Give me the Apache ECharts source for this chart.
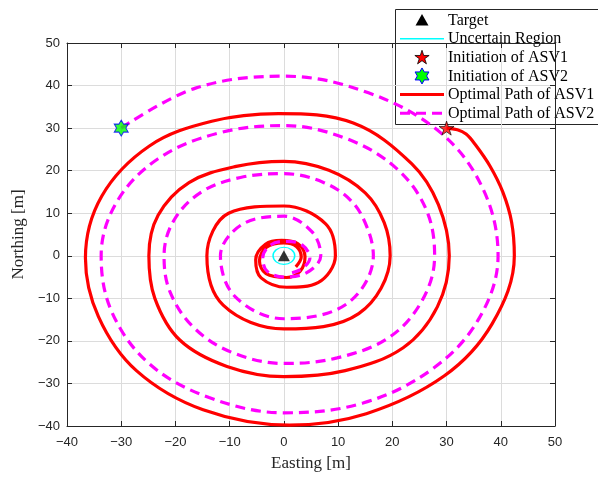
<!DOCTYPE html>
<html>
<head>
<meta charset="utf-8">
<script src="https://cdn.jsdelivr.net/npm/echarts@6/dist/echarts.min.js"></script>
<style>
  html, body { margin: 0; padding: 0; background: #ffffff; overflow: hidden; }
  #chart { width: 598px; height: 477px; }
</style>
</head>
<body>
<div id="chart"></div>
<script>
// Axis range shared by Easting and Northing
const axisMin = -40;
const axisMax = 50;
const tickStep = 10;

// Target position and radius of the uncertain region [m]
const target = [0, 0];
const uncertainRadius = 2;

// Start points of the two vehicles [m]
const asv1Start = [30, 30];
const asv2Start = [-30, 30];

// Optimal path of ASV1 (Easting, Northing) [m]
const asv1Path = [
  [30, 30], [32, 29.6], [33.6, 28.6], [35.2, 26.3], [38, 21.1], [40.4, 14.9], [42, 7.9], [42.5, 0],
  [38.4, -16], [29.6, -28.2], [15.2, -37.1], [1, -39.8], [-14.9, -36.2], [-27.2, -27],
  [-34.2, -14.3], [-36.6, -0.5], [-33.6, 14], [-24.8, 25.8], [-13.3, 31.6], [-1, 33.4],
  [12.8, 31.2], [23.6, 21.6], [28.5, 12], [30.5, 0], [28.3, -12], [22, -21.6], [11.3, -27],
  [0, -28.4], [-10.5, -26], [-19.2, -19.8], [-23.8, -10], [-24.9, 0], [-23.2, 9.5],
  [-17.5, 17.2], [-8.8, 21], [0, 22.2], [8.3, 20.1], [15, 14.8], [18.5, 7.8], [19.6, 0],
  [13.8, -13.6], [0, -17.2], [-11.2, -11.6], [-14.2, 0], [-10.2, 10], [0, 11.7], [7.7, 7.5],
  [9.5, 0], [6.3, -6.3], [0.5, -7.4], [-4.2, -5.2], [-5.2, -1], [-3.4, 2.7], [-0.4, 3.6],
  [2.6, 2.8], [3.9, -0.2], [3, -3.6], [0.5, -5.1], [-3.3, -4.2], [-4.5, -1.2], [-3.2, 2],
  [0, 3], [2.3, 2.2], [3.2, -0.3], [2.2, -2.6]
];

// Optimal path of ASV2 (Easting, Northing) [m]
const asv2Path = [
  [-30, 30], [-16.3, 39.4], [0, 42.2], [15.6, 38.3], [29.1, 28.7], [36.8, 15.5], [39.5, 0],
  [36, -14.7], [27.5, -26.5], [14.6, -34.6], [0, -36.9], [-13.8, -33.3], [-24.8, -25.4],
  [-31.7, -13.3], [-33.7, 0], [-30.8, 12.7], [-23.2, 22.8], [-12.2, 28.8], [0, 30.6],
  [11.6, 27.5], [20.7, 20.6], [26.2, 11], [27.8, 0], [25.5, -10.5], [19.4, -19.2], [9.8, -24],
  [0, -25.3], [-9.6, -22.7], [-16.6, -16.9], [-21, -8.5], [-22.1, 0], [-20.3, 8.3],
  [-15.2, 15], [-8, 18.4], [0, 19.3], [7.2, 17.3], [12.5, 12.8], [15.4, 6.5], [16.5, 0],
  [11.6, -11.3], [0, -14.8], [-9, -9.6], [-11.7, 0], [-7.8, 7.3], [0, 9.3], [5.2, 5.6],
  [6.8, 0], [4.3, -3.9], [0, -5], [-3.1, -3.6], [-3.9, -0.5], [-2.5, 2.5], [0.5, 3.4],
  [3.4, 2.5], [4.8, -0.5], [3.4, -3], [1.5, -4]
];

// Legend entries, top to bottom
const legendLabels = [
  'Target',
  'Uncertain Region',
  'Initiation of ASV1',
  'Initiation of ASV2',
  'Optimal Path of ASV1',
  'Optimal Path of ASV2'
];

const AXIS_COLOR = '#262626';
const GRID_COLOR = '#dcdcdc';
const RED = '#ff0000';
const MAGENTA = '#ff00ff';
const CYAN = '#00ffff';
const PATH_SMOOTH = 0.36;

// Marker outlines on a unit box (five-point star and hexagram)
const STAR5_PTS = [[0, -1], [0.225, -0.309], [0.951, -0.309], [0.363, 0.118], [0.588, 0.809],
  [0, 0.382], [-0.588, 0.809], [-0.363, 0.118], [-0.951, -0.309], [-0.225, -0.309]];
const STAR6_PTS = [[0, -1], [0.289, -0.5], [0.866, -0.5], [0.577, 0], [0.866, 0.5], [0.289, 0.5],
  [0, 1], [-0.289, 0.5], [-0.866, 0.5], [-0.577, 0], [-0.866, -0.5], [-0.289, -0.5]];

const toSymbol = pts => 'path://M' + pts.map(p => (p[0] * 100).toFixed(1) + ',' + (p[1] * 100).toFixed(1)).join(' L') + ' Z';
const STAR5 = toSymbol(STAR5_PTS);
const STAR6 = toSymbol(STAR6_PTS);

const fmt = v => String(v).replace('-', '\u2212');

function mainAxis(name, gap, labelMargin) {
  return {
    type: 'value', min: axisMin, max: axisMax, interval: tickStep,
    name: name, nameLocation: 'middle', nameGap: gap,
    nameTextStyle: { fontFamily: 'Liberation Serif', fontSize: 17, color: AXIS_COLOR },
    axisLine: { show: true, onZero: false, lineStyle: { color: AXIS_COLOR, width: 1 } },
    axisTick: { show: true, inside: true, length: 5, lineStyle: { color: AXIS_COLOR } },
    axisLabel: { color: AXIS_COLOR, fontFamily: 'Liberation Sans', fontSize: 13, margin: labelMargin, formatter: fmt },
    splitLine: { show: true, lineStyle: { color: GRID_COLOR, width: 1 } }
  };
}
function mirrorAxis(pos) {
  return {
    type: 'value', min: axisMin, max: axisMax, interval: tickStep, position: pos,
    axisLine: { show: true, onZero: false, lineStyle: { color: AXIS_COLOR, width: 1 } },
    axisTick: { show: true, inside: true, length: 5, lineStyle: { color: AXIS_COLOR } },
    axisLabel: { show: false },
    splitLine: { show: false }
  };
}

// Legend box drawn as graphic elements
const LX = 395.5, LY = 9.5, ROW0 = 20, ROWH = 18.65, ICON_X0 = 400, ICON_X1 = 444, TEXT_X = 448;
const cxIcon = (ICON_X0 + ICON_X1) / 2;
const placeIcon = (pts, cx, cy, hw, hh) => pts.map(p => [cx + p[0] * hw, cy + p[1] * hh]);

const legendEls = [{
  type: 'rect', shape: { x: LX, y: LY, width: 220, height: 115 },
  style: { fill: '#ffffff', stroke: AXIS_COLOR, lineWidth: 1 }
}];
legendLabels.forEach((t, i) => {
  legendEls.push({
    type: 'text', x: TEXT_X, y: ROW0 + 0.5 + i * ROWH,
    style: { text: t, fill: '#000000', font: '16px "Liberation Serif"', verticalAlign: 'middle', align: 'left' }
  });
});
legendEls.push(
  { type: 'polygon', shape: { points: [[cxIcon, ROW0 - 6], [cxIcon + 6.5, ROW0 + 5.5], [cxIcon - 6.5, ROW0 + 5.5]] },
    style: { fill: '#000000' } },
  { type: 'line', shape: { x1: ICON_X0, y1: ROW0 + ROWH, x2: ICON_X1, y2: ROW0 + ROWH },
    style: { stroke: CYAN, lineWidth: 1.5 } },
  { type: 'polygon', shape: { points: placeIcon(STAR5_PTS, cxIcon, ROW0 + 2 * ROWH + 0.5, 7.5, 7.5) },
    style: { fill: RED, stroke: '#000000', lineWidth: 0.8 } },
  { type: 'polygon', shape: { points: placeIcon(STAR6_PTS, cxIcon, ROW0 + 3 * ROWH, 8, 8) },
    style: { fill: '#00ff00', stroke: '#0000ff', lineWidth: 1 } },
  { type: 'line', shape: { x1: ICON_X0, y1: ROW0 + 4 * ROWH, x2: ICON_X1, y2: ROW0 + 4 * ROWH },
    style: { stroke: RED, lineWidth: 3 } },
  { type: 'line', shape: { x1: ICON_X0, y1: ROW0 + 5 * ROWH, x2: ICON_X1, y2: ROW0 + 5 * ROWH },
    style: { stroke: MAGENTA, lineWidth: 3, lineDash: [10, 6] } }
);

const chart = echarts.init(document.getElementById('chart'), null, { renderer: 'canvas', width: 598, height: 477 });
chart.setOption({
  animation: false,
  backgroundColor: '#ffffff',
  grid: { left: 67, top: 43, width: 488, height: 387, containLabel: false },
  xAxis: [mainAxis('Easting [m]', 29, 10), mirrorAxis('top')],
  yAxis: [mainAxis('Northing [m]', 35, 7), mirrorAxis('right')],
  series: [
    {
      name: 'Optimal Path of ASV1', type: 'line', data: asv1Path, smooth: PATH_SMOOTH,
      showSymbol: false, lineStyle: { color: RED, width: 3.2 }, z: 3
    },
    {
      name: 'Optimal Path of ASV2', type: 'line', data: asv2Path, smooth: PATH_SMOOTH,
      showSymbol: false, lineStyle: { color: MAGENTA, width: 3.2, type: [10, 6] }, z: 4
    },
    {
      name: 'Uncertain Region', type: 'custom', data: [[target[0], target[1], uncertainRadius]], z: 5,
      renderItem: (params, api) => {
        const c = api.coord([api.value(0), api.value(1)]);
        const s = api.size([api.value(2), api.value(2)]);
        return {
          type: 'circle', x: c[0], y: c[1], scaleX: 1, scaleY: s[1] / s[0],
          shape: { cx: 0, cy: 0, r: s[0] },
          style: { fill: 'none', stroke: CYAN, lineWidth: 1.5, strokeNoScale: true }
        };
      }
    },
    {
      name: 'Target', type: 'scatter', data: [target], symbol: 'triangle', symbolSize: [12, 11],
      itemStyle: { color: '#000000' }, z: 6
    },
    {
      name: 'Initiation of ASV1', type: 'scatter', data: [asv1Start], symbol: STAR5, symbolSize: [15, 14],
      itemStyle: { color: RED, borderColor: '#000000', borderWidth: 0.8 }, z: 7
    },
    {
      name: 'Initiation of ASV2', type: 'scatter', data: [asv2Start], symbol: STAR6, symbolSize: [14, 16],
      itemStyle: { color: '#00ff00', borderColor: '#0000ff', borderWidth: 1 }, z: 7
    }
  ],
  graphic: [{ type: 'group', z: 100, children: legendEls }]
});
</script>
</body>
</html>
